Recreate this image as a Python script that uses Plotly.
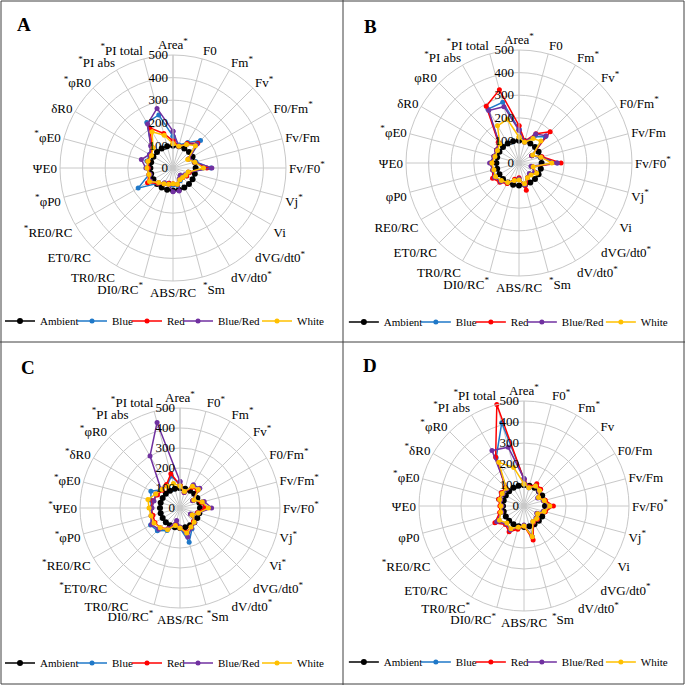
import plotly.graph_objects as go

categories = ["Area", "F0", "Fm", "Fv", "F0/Fm", "Fv/Fm", "Fv/F0", "Vj", "Vi",
              "dVG/dt0", "dV/dt0", "Sm", "ABS/RC", "DI0/RC", "TR0/RC", "ET0/RC",
              "RE0/RC", "φP0", "ΨE0", "φE0", "δR0", "φR0", "PI abs", "PI total"]
series_names = ["Ambient", "Blue", "Red", "Blue/Red", "White"]
panel_letters = ["A", "B", "C", "D"]
radial_ticks = [0, 100, 200, 300, 400, 500]

ambient = [100, 100, 100, 100, 100, 100, 100, 100, 100, 100, 100, 100,
           100, 100, 100, 100, 100, 100, 100, 100, 100, 100, 100, 100]

# Panel A
a_blue = [140, 105, 130, 172, 80, 105, 168, 75, 70, 60, 65, 80, 75, 70, 80, 95, 178, 110, 110, 120, 120, 135, 232, 243]
a_red = [120, 100, 125, 155, 80, 100, 150, 75, 70, 60, 60, 75, 70, 70, 80, 95, 130, 110, 110, 115, 115, 130, 205, 158]
a_bluered = [163, 100, 120, 150, 80, 100, 172, 70, 60, 45, 55, 105, 105, 75, 75, 90, 115, 105, 120, 145, 120, 140, 225, 273]
a_white = [107, 100, 120, 140, 75, 100, 135, 70, 65, 60, 60, 75, 70, 75, 80, 90, 120, 110, 115, 115, 110, 125, 185, 150]
# Panel B
b_blue = [150, 100, 135, 165, 65, 100, 168, 60, 85, 70, 75, 100, 70, 80, 100, 115, 125, 120, 125, 115, 115, 125, 275, 278]
b_red = [165, 100, 150, 195, 65, 105, 186, 60, 85, 70, 75, 125, 65, 75, 105, 120, 135, 120, 120, 115, 115, 130, 290, 335]
b_bluered = [145, 95, 148, 170, 65, 100, 170, 55, 80, 65, 75, 100, 70, 80, 100, 115, 125, 120, 130, 115, 115, 125, 268, 258]
b_white = [115, 95, 125, 137, 70, 100, 145, 65, 90, 75, 75, 95, 75, 80, 100, 110, 120, 115, 120, 110, 110, 120, 190, 200]
# Panel C
c_blue = [115, 85, 125, 130, 80, 115, 125, 90, 70, 100, 120, 177, 100, 90, 130, 160, 170, 145, 145, 150, 168, 130, 130, 165]
c_red = [115, 80, 120, 125, 75, 110, 125, 90, 70, 95, 110, 125, 100, 85, 120, 140, 145, 140, 145, 140, 130, 125, 135, 177]
c_bluered = [132, 80, 134, 140, 72, 125, 158, 95, 60, 105, 115, 150, 95, 65, 120, 150, 165, 150, 140, 135, 140, 135, 300, 443]
c_white = [110, 85, 125, 130, 80, 115, 142, 95, 70, 100, 110, 130, 100, 90, 125, 140, 150, 150, 155, 166, 140, 130, 125, 127]
# Panel D
d_blue = [130, 90, 115, 105, 80, 100, 125, 100, 75, 90, 90, 150, 95, 110, 130, 120, 150, 115, 110, 125, 125, 120, 265, 410]
d_red = [125, 95, 122, 112, 80, 105, 140, 105, 75, 90, 90, 168, 95, 115, 142, 125, 160, 120, 115, 125, 125, 125, 270, 500]
d_bluered = [130, 90, 110, 100, 75, 95, 120, 95, 70, 80, 85, 150, 90, 105, 133, 120, 150, 110, 105, 115, 115, 115, 305, 290]
d_white = [105, 90, 110, 105, 80, 100, 123, 100, 75, 85, 85, 152, 95, 105, 125, 115, 135, 115, 110, 120, 120, 120, 240, 190]

# categories marked with a significance asterisk in each panel
sig_a = ["Area", "Fm", "Fv", "F0/Fm", "Fv/F0", "Vj", "dVG/dt0", "dV/dt0", "Sm", "DI0/RC",
         "RE0/RC", "φP0", "φE0", "φR0", "PI abs", "PI total"]
sig_b = ["Area", "Fm", "Fv", "F0/Fm", "Fv/F0", "Vj", "dVG/dt0", "dV/dt0", "Sm", "DI0/RC",
         "φE0", "PI abs", "PI total"]
sig_c = ["Area", "F0", "Fm", "Fv", "F0/Fm", "Fv/Fm", "Fv/F0", "Vj", "Vi", "dVG/dt0", "dV/dt0",
         "Sm", "DI0/RC", "ET0/RC", "RE0/RC", "φP0", "ΨE0", "φE0", "δR0", "φR0", "PI abs", "PI total"]
sig_d = ["Area", "F0", "Fm", "Fv/F0", "Vj", "dVG/dt0", "dV/dt0", "Sm", "DI0/RC", "TR0/RC",
         "RE0/RC", "φE0", "δR0", "φR0", "PI abs", "PI total"]

colors = ["#000000", "#1f78c8", "#ff0000", "#7030a0", "#ffc000"]
legend_widths = [27, 10, 6, 34, 27]

panels = [
    ([ambient, a_blue, a_red, a_bluered, a_white], sig_a),
    ([ambient, b_blue, b_red, b_bluered, b_white], sig_b),
    ([ambient, c_blue, c_red, c_bluered, c_white], sig_c),
    ([ambient, d_blue, d_red, d_bluered, d_white], sig_d),
]

# layout geometry (pixels in a 685x685 page)
W = 685
centers = [(173, 168, 113), (519, 163, 113), (180, 508, 100), (524, 506, 105)]
legend_pos = [(0.0, 1 - 321 / W), (0.502, 1 - 322 / W), (0.0, 1 - 663 / W), (0.502, 1 - 662 / W)]
letter_pos = [(24, 24), (370, 26), (28, 367), (370, 366)]

SERIF = "Liberation Serif"
GRID = "#c8c8c8"

def tick_labels(sig):
    out = []
    for i, c in enumerate(categories):
        if c not in sig:
            out.append(c)
        elif c == "Sm":
            out.append("<sup>*</sup>" + c)
        elif i <= 13 or c == "TR0/RC":
            out.append(c + "<sup>*</sup>")
        else:
            out.append("<sup>*</sup>" + c)
    return out

fig = go.Figure()
layout_extra = {}
for p, (series, sig) in enumerate(panels):
    pname = "polar" if p == 0 else f"polar{p + 1}"
    lname = "legend" if p == 0 else f"legend{p + 1}"
    for s, vals in enumerate(series):
        fig.add_trace(go.Scatterpolar(
            r=list(vals) + [vals[0]],
            theta=categories + [categories[0]],
            mode="lines+markers",
            name=series_names[s],
            line=dict(color=colors[s], width=1.5),
            marker=dict(color=colors[s], size=6 if s == 0 else 5),
            subplot=pname,
            legend=lname,
            legendwidth=legend_widths[s],
            showlegend=True,
        ))
    cx, cy, rad = centers[p]
    layout_extra[pname] = dict(
        domain=dict(x=[(cx - rad) / W, (cx + rad) / W],
                    y=[1 - (cy + rad) / W, 1 - (cy - rad) / W]),
        bgcolor="white",
        angularaxis=dict(
            type="category", rotation=90, direction="clockwise",
            tickmode="array", tickvals=categories, ticktext=tick_labels(sig),
            tickfont=dict(family=SERIF, size=13, color="black"),
            showline=True, linecolor=GRID, linewidth=1,
            gridcolor=GRID, gridwidth=1, ticks="",
        ),
        radialaxis=dict(
            range=[0, 500], tickmode="array", tickvals=radial_ticks,
            angle=90, side="counterclockwise", tickangle=90,
            tickfont=dict(family=SERIF, size=13, color="black"),
            showline=True, linecolor=GRID, gridcolor=GRID, gridwidth=1, ticks="",
        ),
    )
    lx, ly = legend_pos[p]
    layout_extra[lname] = dict(
        orientation="h", x=lx, xanchor="left", y=ly, yanchor="middle",
        font=dict(family=SERIF, size=11, color="black"),
        bgcolor="rgba(0,0,0,0)", itemwidth=30, tracegroupgap=0,
    )

annotations = []
for p, (lx, ly) in enumerate(letter_pos):
    annotations.append(dict(
        text="<b>" + panel_letters[p] + "</b>", x=lx / W, y=1 - ly / W,
        xref="paper", yref="paper", xanchor="center", yanchor="middle",
        showarrow=False,
        font=dict(family=SERIF, size=19, color="black"),
    ))

shapes = [
    dict(type="rect", xref="paper", yref="paper", x0=1 / W, x1=1 - 1 / W, y0=1 / W, y1=1 - 1 / W,
         line=dict(color="#404040", width=1)),
    dict(type="line", xref="paper", yref="paper", x0=343 / W, x1=343 / W, y0=0, y1=1,
         line=dict(color="#404040", width=1)),
    dict(type="line", xref="paper", yref="paper", x0=0, x1=1, y0=1 - 342 / W, y1=1 - 342 / W,
         line=dict(color="#404040", width=1)),
]

fig.update_layout(
    width=W, height=W,
    margin=dict(l=0, r=0, t=0, b=0, autoexpand=False),
    paper_bgcolor="white",
    font=dict(family=SERIF, color="black"),
    annotations=annotations,
    shapes=shapes,
    **layout_extra,
)

fig.write_html(
    "out.html",
    config={"displayModeBar": False},
    post_script="document.body.style.margin='0';document.body.style.padding='0';"
                "document.body.style.overflow='hidden';",
)
